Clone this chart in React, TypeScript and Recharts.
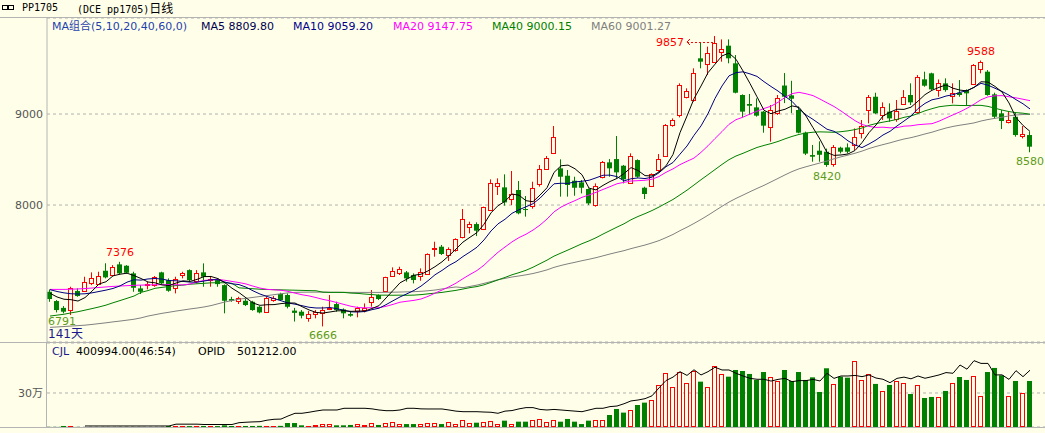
import React from 'react';
import { ComposedChart, Bar, Line, XAxis, YAxis, CartesianGrid, ReferenceDot } from 'recharts';

const BG = '#ffffe9';
const RED = '#ff0000';
const GREEN = '#008000';
const FONT = '"DejaVu Sans", "Noto Sans CJK SC", sans-serif';

// daily OHLC, 141 sessions
const opens = [
  7047, 6945, 6870, 6846, 7055, 7058, 7150, 7139, 7278, 7230, 7348, 7333, 7249, 7084, 7120, 7120, 7260, 7175, 7084, 7230,
  7285, 7157, 7260, 7175, 7175, 7120, 6967, 6937, 6948, 6937, 6882, 6828, 6963, 7022, 7011, 6840, 6828, 6755, 6802, 6810,
  6857, 6912, 6853, 6802, 6828, 6846, 6927, 7011, 7055, 7220, 7249, 7260, 7231, 7212, 7238, 7513, 7542, 7451, 7506, 7645,
  7755, 7791, 7733, 7952, 8209, 8194, 8062, 8165, 7956, 7990, 8231, 8403, 8575, 8403, 8322, 8267, 8249, 8176, 8000, 8300,
  8469, 8505, 8432, 8249, 8494, 8190, 8212, 8385, 8538, 8879, 8989, 9190, 9154, 9612, 9549, 9575, 9674, 9751, 9557, 9209,
  9110, 9073, 9026, 8861, 9010, 9313, 9205, 9044, 8795, 8549, 8597, 8586, 8458, 8630, 8633, 8652, 8798, 9044, 9190, 8989,
  9026, 8945, 9110, 9209, 9025, 9381, 9447, 9263, 9337, 9190, 9234, 9263, 9330, 9490, 9465, 9216, 9007, 8908, 8970, 8751,
  8769,
];
const highs = [
  7073, 6956, 6890, 7102, 7084, 7212, 7260, 7267, 7360, 7340, 7376, 7340, 7267, 7120, 7157, 7220, 7267, 7194, 7212, 7267,
  7293, 7285, 7359, 7220, 7183, 7128, 6992, 6992, 6974, 6948, 6890, 6992, 7000, 7036, 7029, 6870, 6846, 6835, 6846, 6883,
  7011, 6938, 6864, 6828, 6883, 6919, 7066, 7018, 7212, 7315, 7322, 7275, 7249, 7304, 7469, 7597, 7561, 7535, 7634, 7956,
  7817, 7810, 7982, 8282, 8293, 8337, 8374, 8264, 8099, 8256, 8440, 8538, 8868, 8502, 8385, 8311, 8275, 8183, 8238, 8484,
  8505, 8758, 8440, 8568, 8502, 8201, 8348, 8560, 8890, 8952, 9337, 9282, 9502, 9784, 9740, 9857, 9820, 9820, 9648, 9216,
  9220, 9172, 9033, 9099, 9209, 9450, 9365, 9081, 8806, 8660, 8700, 8620, 8659, 8641, 8677, 8842, 8934, 9209, 9234, 9128,
  9117, 9154, 9263, 9337, 9428, 9465, 9454, 9380, 9392, 9337, 9373, 9271, 9549, 9588, 9483, 9234, 9044, 9025, 9014, 8868,
  8806,
];
const lows = [
  6937, 6820, 6810, 6791, 6992, 7047, 7120, 7120, 7194, 7220, 7238, 7248, 7047, 7022, 7073, 7102, 7128, 7047, 7029, 7194,
  7157, 7139, 7102, 7102, 7102, 6810, 6937, 6912, 6890, 6838, 6810, 6817, 6937, 6945, 6864, 6720, 6755, 6718, 6755, 6666,
  6846, 6828, 6755, 6773, 6766, 6820, 6883, 6956, 7048, 7212, 7231, 7158, 7139, 7168, 7231, 7432, 7451, 7385, 7487, 7634,
  7689, 7659, 7725, 7945, 8110, 7993, 8000, 7898, 7872, 7960, 8202, 8385, 8560, 8092, 8092, 8102, 8128, 8000, 7982, 8293,
  8311, 8293, 8238, 8238, 8300, 8066, 8202, 8366, 8531, 8861, 8963, 9172, 9135, 9502, 9428, 9568, 9575, 9557, 9227, 8963,
  8989, 8971, 8795, 8696, 8989, 9120, 9010, 8788, 8549, 8476, 8476, 8420, 8421, 8567, 8567, 8604, 8732, 8897, 9000, 8934,
  8915, 8915, 9099, 9099, 9007, 9300, 9264, 9190, 9245, 9117, 9190, 9099, 9318, 9447, 9201, 8952, 8835, 8897, 8751, 8732,
  8580,
];
const closes = [
  6967, 6846, 6828, 7084, 7000, 7157, 7200, 7223, 7205, 7322, 7249, 7256, 7091, 7047, 7128, 7205, 7139, 7058, 7183, 7249,
  7175, 7249, 7212, 7190, 7131, 6948, 6948, 6974, 6901, 6846, 6820, 6981, 6981, 6956, 6882, 6815, 6784, 6802, 6820, 6846,
  6872, 6846, 6810, 6784, 6864, 6872, 6985, 6967, 7205, 7275, 7293, 7194, 7176, 7260, 7458, 7524, 7462, 7513, 7623, 7843,
  7788, 7718, 7974, 8246, 8238, 8029, 8117, 7909, 7945, 8183, 8392, 8520, 8751, 8311, 8220, 8190, 8190, 8018, 8212, 8469,
  8403, 8359, 8282, 8542, 8311, 8121, 8341, 8502, 8879, 8934, 9319, 9256, 9454, 9575, 9667, 9784, 9711, 9612, 9234, 9026,
  9091, 8982, 8872, 9044, 9172, 9190, 9168, 8795, 8565, 8531, 8552, 8440, 8641, 8586, 8586, 8743, 8871, 9190, 9007, 9080,
  8952, 9033, 9183, 9128, 9410, 9311, 9271, 9344, 9263, 9227, 9209, 9227, 9538, 9571, 9209, 8970, 8923, 8934, 8769, 8776,
  8641,
];

// CJL (volume) and OPID (open interest)
const volumes = [
  1000, 1000, 9000, 9000, 1000, 1000, 1000, 1000, 1000, 1000, 1000, 1000, 1000, 1000, 1000, 1000, 1000, 8000, 8000, 6000,
  8000, 6000, 9000, 8000, 8000, 15000, 9000, 6000, 9000, 9000, 10000, 8000, 8000, 10000, 35000, 35000, 15000, 9000, 15000, 30000,
  24000, 15000, 15000, 18000, 26000, 18000, 32000, 18000, 38000, 47000, 26000, 26000, 26000, 24000, 38000, 38000, 26000, 47000, 29000, 62000,
  35000, 38000, 47000, 56000, 26000, 56000, 26000, 47000, 47000, 62000, 71000, 47000, 62000, 47000, 71000, 47000, 26000, 56000, 62000, 62000,
  106000, 159000, 127000, 150000, 194000, 215000, 238000, 371000, 474000, 350000, 488000, 385000, 497000, 400000, 350000, 539000, 468000, 444000, 503000, 494000,
  468000, 415000, 485000, 438000, 409000, 503000, 406000, 485000, 415000, 438000, 309000, 518000, 380000, 444000, 435000, 583000, 415000, 468000, 380000, 318000,
  371000, 406000, 388000, 291000, 368000, 256000, 265000, 265000, 318000, 388000, 441000, 415000, 450000, 273000, 485000, 521000, 456000, 273000, 406000, 300000,
  406000,
];
const openInterest = [
  null, null, null, null, null, 9000, 9000, 9000, 9000, 9000, 9000, 9000, 9000, 9000, 9000, 9000, 9000, 9000, 25000, 25000,
  25000, 25000, 22000, 22000, 22000, 22000, 22000, 38000, 42000, 45000, 47000, 60000, 68000, 70000, 97000, 121000, 121000, 130000, 141000, 150000,
  150000, 150000, 165000, 165000, 165000, 165000, 160000, 150000, 144000, 144000, 150000, 165000, 165000, 160000, 159000, 159000, 159000, 150000, 140000, 135000,
  135000, 135000, 132000, 130000, 121000, 140000, 145000, 160000, 171000, 171000, 155000, 150000, 155000, 150000, 145000, 140000, 135000, 150000, 165000, 165000,
  180000, 185000, 205000, 230000, 238000, 250000, 275000, 345000, 410000, 440000, 488000, 455000, 505000, 459000, 488000, 527000, 503000, 503000, 474000, 450000,
  429000, 421000, 421000, 405000, 420000, 429000, 400000, 409000, 409000, 420000, 406000, 474000, 429000, 450000, 450000, 455000, 444000, 459000, 432000, 421000,
  391000, 429000, 440000, 425000, 450000, 430000, 444000, 459000, 480000, 474000, 547000, 510000, 585000, 561000, 561000, 459000, 460000, 420000, 497000, 444000,
  501000,
];

// moving-average values where the window reaches back before the first visible day
const ma5Head = [7030, 6990, 6965, 6960];
const ma10Head = [7070, 7050, 7035, 7025, 7022, 7025, 7035, 7050, 7065];
const ma20Head = [7073, 7073, 7073, 7075, 7078, 7082, 7088, 7094, 7100, 7106, 7110, 7114, 7118, 7120, 7122, 7124, 7125, 7125, 7124];
const ma40Head = [
  6780, 6790, 6800, 6815, 6828, 6845, 6862, 6880, 6900, 6926, 6950, 6975, 7000, 7040, 7060, 7085, 7095, 7105, 7115, 7120,
  7130, 7135, 7140, 7145, 7146, 7146, 7140, 7090, 7085, 7080, 7075, 7072, 7070, 7068, 7066, 7064, 7062, 7060, 7058,
];
const ma60Head = [
  6656, 6660, 6665, 6670, 6675, 6680, 6688, 6697, 6706, 6716, 6725, 6735, 6745, 6760, 6780, 6795, 6810, 6822, 6835, 6846,
  6858, 6868, 6880, 6895, 6915, 6935, 6950, 6965, 6975, 6985, 6995, 7005, 7015, 7025, 7035, 7040, 7042, 7043, 7043, 7043,
  7042, 7042, 7041, 7040, 7040, 7040, 7040, 7040, 7041, 7042, 7044, 7046, 7048, 7052, 7058, 7066, 7078, 7090, 7100,
];

const movingAvg = (head: number[], n: number) =>
  closes.map((_, i) => {
    if (i < n - 1) return head[i];
    let s = 0;
    for (let k = i - n + 1; k <= i; k++) s += closes[k];
    return s / n;
  });

const ma5 = movingAvg(ma5Head, 5);
const ma10 = movingAvg(ma10Head, 10);
const ma20 = movingAvg(ma20Head, 20);
const ma40 = movingAvg(ma40Head, 40);
const ma60 = movingAvg(ma60Head, 60);

const rows = closes.map((c, i) => ({
  i,
  open: opens[i],
  high: highs[i],
  low: lows[i],
  close: c,
  range: [lows[i], highs[i]],
  up: c >= opens[i],
  vol: volumes[i],
  oi: openInterest[i],
  ma5: ma5[i],
  ma10: ma10[i],
  ma20: ma20[i],
  ma40: ma40[i],
  ma60: ma60[i],
}));

const Candle = (props: any) => {
  const { x, y, width, height, payload } = props;
  if (x == null || !payload) return null;
  const top = Math.min(y, y + height);
  const h = Math.abs(height);
  const { open, close, high, low, up } = payload;
  const k = h / (high - low || 1);
  const yOf = (v: number) => top + (high - v) * k;
  const cx = Math.round(x + width / 2) - 0.5;
  const bTop = yOf(Math.max(open, close));
  const bBot = yOf(Math.min(open, close));
  const color = up ? RED : GREEN;
  return (
    <g>
      <line x1={cx} x2={cx} y1={top} y2={top + h} stroke={color} strokeWidth={1} />
      {up ? (
        <rect x={cx - 2} y={Math.round(bTop) + 0.5} width={4} height={Math.max(Math.round(bBot - bTop), 1)} fill={BG} stroke={color} strokeWidth={1} />
      ) : (
        <rect x={cx - 2.5} y={bTop} width={5} height={Math.max(bBot - bTop, 1)} fill={color} />
      )}
    </g>
  );
};

const VolBar = (props: any) => {
  const { x, y, width, height, payload } = props;
  if (x == null || !payload || !height) return null;
  const cx = Math.round(x + width / 2) - 0.5;
  if (payload.up) {
    return <rect x={cx - 2} y={Math.round(y) + 0.5} width={4} height={Math.max(Math.round(height) - 1, 0.5)} fill={BG} stroke={RED} strokeWidth={1} />;
  }
  return <rect x={cx - 2.5} y={y} width={5} height={height} fill={GREEN} />;
};

const HighLabel = (props: any) => {
  const { viewBox, value } = props;
  return (
    <text x={viewBox.x} y={viewBox.y - 6} textAnchor="middle" fontSize={11} fontFamily={FONT} fill={RED}>
      {value}
    </text>
  );
};

const LowLabel = (props: any) => {
  const { viewBox, value } = props;
  return (
    <text x={viewBox.x} y={viewBox.y + 13} textAnchor="middle" fontSize={11} fontFamily={FONT} fill="#5e9a1c">
      {value}
    </text>
  );
};

// the low at the left edge is pinned against the axis
const EdgeLowLabel = (props: any) => {
  const { viewBox, value } = props;
  return (
    <text x={48} y={viewBox.y + 10} textAnchor="start" fontSize={11} fontFamily={FONT} fill="#5e9a1c">
      {value}
    </text>
  );
};

const PeakLabel = (props: any) => {
  const { viewBox, value } = props;
  const cx = viewBox.x;
  const cy = viewBox.y + 6;
  return (
    <g>
      <text x={cx - 31} y={cy + 4} textAnchor="end" fontSize={11} fontFamily={FONT} fill={RED}>
        {value}
      </text>
      <path d={`M${cx - 25} ${cy - 3} L${cx - 28} ${cy} L${cx - 25} ${cy + 3}`} stroke={RED} fill="none" />
      <line x1={cx - 28} x2={cx - 1} y1={cy + 0.5} y2={cy + 0.5} stroke={RED} strokeDasharray="2 2" />
    </g>
  );
};

const maLabels = [
  { x: 52, text: 'MA组合(5,10,20,40,60,0)', color: '#1f3fae' },
  { x: 201, text: 'MA5 8809.80', color: '#000050' },
  { x: 293, text: 'MA10 9059.20', color: '#00008b' },
  { x: 393, text: 'MA20 9147.75', color: '#ff00ff' },
  { x: 492, text: 'MA40 9000.15', color: '#008000' },
  { x: 591, text: 'MA60 9001.27', color: '#808080' },
];

const abs = (l: number, t: number, extra: any = {}) => ({ position: 'absolute' as const, left: l, top: t, whiteSpace: 'nowrap' as const, ...extra });

export default function App() {
  const xDomain = [-3 / 7, 995 / 7];
  return (
    <div style={{ position: 'absolute', left: 0, top: 0, width: 1045, height: 433, background: BG, overflow: 'hidden', fontFamily: FONT }}>
      {/* title row */}
      <svg style={abs(2, 4)} width={12} height={8}>
        <rect x={0.5} y={1.5} width={5} height={4} fill="none" stroke="#000" />
        <rect x={6.5} y={1.5} width={5} height={4} fill="none" stroke="#000" />
      </svg>
      <div style={abs(22, 1, { fontFamily: '"DejaVu Sans Mono", monospace', fontSize: 10, lineHeight: '14px', color: '#000' })}>PP1705</div>
      <div style={abs(77, 1, { fontFamily: '"DejaVu Sans Mono", monospace', fontSize: 10, lineHeight: '14px', color: '#000' })}>
        (DCE pp1705)<span style={{ fontFamily: '"Noto Sans CJK SC"', fontSize: 12 }}>日线</span>
      </div>
      <div style={abs(0, 17, { width: 1045, height: 1, background: '#b4b4b4' })} />

      {maLabels.map((m) => (
        <div key={m.text} style={abs(m.x, 19, { fontSize: 11, lineHeight: '16px', color: m.color })}>
          {m.text}
        </div>
      ))}

      <div style={abs(0, 0)}>
        <ComposedChart width={1045} height={342} data={rows} margin={{ top: 18, right: 0, bottom: 0, left: 0 }}>
          <CartesianGrid vertical={false} stroke="#b0b0b0" strokeDasharray="3 3" />
          <XAxis dataKey="i" type="number" domain={xDomain} hide allowDataOverflow />
          <YAxis
            domain={[6495, 10055]}
            ticks={[8000, 9000]}
            width={47}
            allowDataOverflow
            axisLine={{ stroke: '#b4b4b4' }}
            tickLine={false}
            tickSize={2}
            tick={{ fontSize: 11, fill: '#555', fontFamily: FONT }}
          />
          <Bar dataKey="range" shape={Candle} barSize={5} isAnimationActive={false} />
          <Line dataKey="ma60" stroke="#808080" strokeWidth={1} dot={false} isAnimationActive={false} />
          <Line dataKey="ma40" stroke="#008000" strokeWidth={1} dot={false} isAnimationActive={false} />
          <Line dataKey="ma20" stroke="#ff00ff" strokeWidth={1} dot={false} isAnimationActive={false} />
          <Line dataKey="ma10" stroke="#000080" strokeWidth={1} dot={false} isAnimationActive={false} />
          <Line dataKey="ma5" stroke="#000000" strokeWidth={1} dot={false} isAnimationActive={false} />
          <ReferenceDot x={10} y={7376} r={0} label={<HighLabel value="7376" />} />
          <ReferenceDot x={133} y={9588} r={0} label={<HighLabel value="9588" />} />
          <ReferenceDot x={95} y={9857} r={0} label={<PeakLabel value="9857" />} />
          <ReferenceDot x={3} y={6791} r={0} label={<EdgeLowLabel value="6791" />} />
          <ReferenceDot x={39} y={6666} r={0} label={<LowLabel value="6666" />} />
          <ReferenceDot x={111} y={8420} r={0} label={<LowLabel value="8420" />} />
          <ReferenceDot x={140} y={8580} r={0} label={<LowLabel value="8580" />} />
        </ComposedChart>
      </div>
      <div style={abs(48, 328, { fontSize: 12, lineHeight: '12px', color: '#1a1a8c' })}>141天</div>

      {/* volume panel */}
      <div style={abs(0, 342, { width: 1045, height: 1, background: '#b4b4b4' })} />
      <div style={abs(46, 342, { width: 1, height: 86, background: '#b4b4b4' })} />
      <div style={abs(52, 344, { fontSize: 11, lineHeight: '16px', color: '#000' })}>
        <span style={{ color: '#1a1a8c' }}>CJL</span>
        <span style={{ marginLeft: 7 }}>400994.00(46:54)</span>
      </div>
      <div style={abs(198, 344, { fontSize: 11, lineHeight: '16px', color: '#000' })}>
        OPID<span style={{ marginLeft: 12 }}>501212.00</span>
      </div>
      <div style={abs(0, 343)}>
        <ComposedChart width={1045} height={84} data={rows} margin={{ top: 0, right: 0, bottom: 0, left: 0 }}>
          <CartesianGrid vertical={false} stroke="#b0b0b0" strokeDasharray="3 3" />
          <XAxis dataKey="i" type="number" domain={xDomain} hide allowDataOverflow />
          <YAxis
            domain={[0, 741000]}
            ticks={[300000]}
            width={47}
            allowDataOverflow
            axisLine={false}
            tickLine={false}
            tickSize={2}
            tickFormatter={(v: number) => `${v / 10000}万`}
            tick={{ fontSize: 11, fill: '#555', fontFamily: FONT }}
          />
          <Bar dataKey="vol" shape={VolBar} barSize={5} isAnimationActive={false} />
          <Line dataKey="oi" stroke="#000" strokeWidth={1} dot={false} isAnimationActive={false} />
        </ComposedChart>
      </div>
      <div style={abs(0, 427, { width: 1045, height: 1, background: '#b4b4b4' })} />
    </div>
  );
}
